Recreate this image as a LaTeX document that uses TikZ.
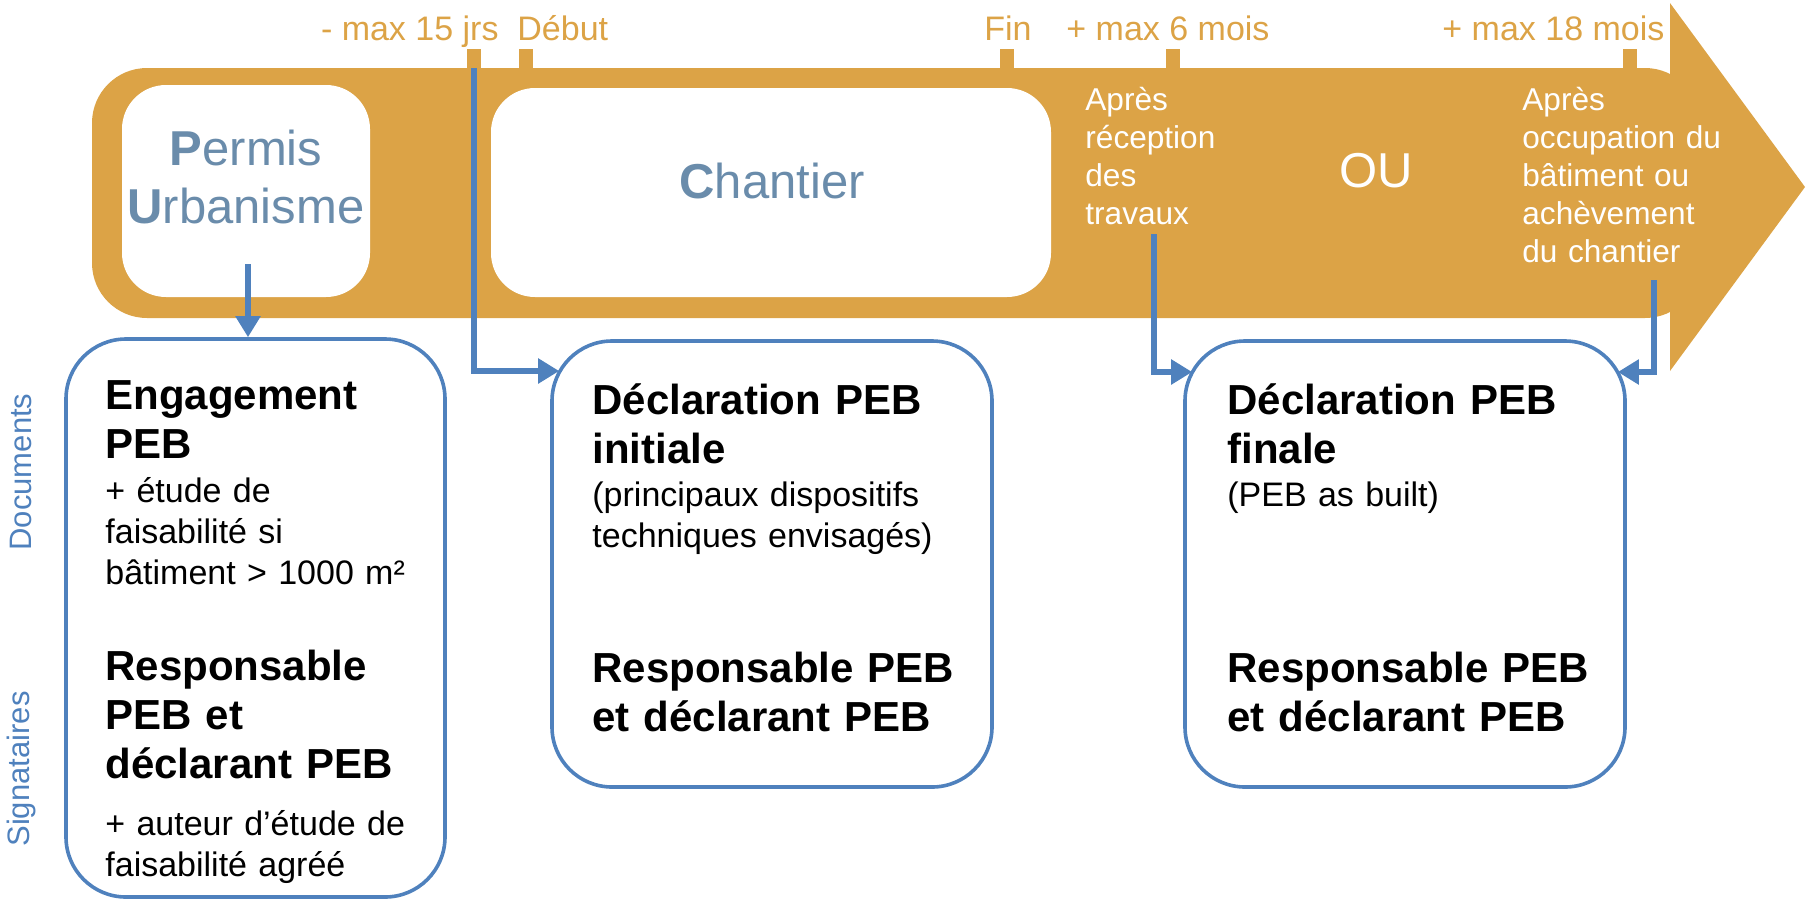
\documentclass[tikz,border=0pt]{standalone}
\usepackage{fontspec}
\setmainfont{Liberation Sans}
\usetikzlibrary{arrows.meta,calc}
\definecolor{pebor}{HTML}{DCA346}
\definecolor{pebbl}{HTML}{4F81BD}
\definecolor{pebgr}{HTML}{6A8CAB}

\begin{document}
\begin{tikzpicture}[x=0.5pt,y=-0.5pt,>={Triangle[length=10.5pt,width=12pt]},
    hole/.style={fill=white,rounded corners=22pt,inner sep=0},
    docbox/.style={draw=pebbl,line width=1.8pt,rounded corners=30pt,inner sep=0,minimum width=220pt,minimum height=223pt},
    link/.style={draw=pebbl,line width=3pt},
    big/.style={text=pebgr,font=\fontsize{24.5pt}{29pt}\selectfont,inner sep=0},
    head/.style={font=\bfseries\fontsize{21pt}{24.5pt}\selectfont,inner sep=0,anchor=base west,text width=195pt,align=left},
    note/.style={font=\fontsize{17pt}{20.5pt}\selectfont,inner sep=0,anchor=base west,text width=195pt,align=left},
    time/.style={text=pebor,font=\fontsize{17pt}{20pt}\selectfont,inner sep=0,anchor=base west},
    onarrow/.style={text=white,font=\fontsize{15.8pt}{19pt}\selectfont,inner sep=0,anchor=base west,text width=125pt,align=left},
    side/.style={text=pebbl,font=\fontsize{15.5pt}{18pt}\selectfont,inner sep=0,rotate=90},
    ]
\useasboundingbox (0,0) rectangle (1806,901);
\fill[pebor,rounded corners=27.5pt] (92,68) rectangle (1700,318);
\fill[pebor] (1670,3) -- (1805,187) -- (1670,371) -- cycle;
\fill[pebor] (467,49) rectangle (481,69);
\fill[pebor] (519,49) rectangle (533,69);
\fill[pebor] (1000,49) rectangle (1014,69);
\fill[pebor] (1166,49) rectangle (1180,69);
\fill[pebor] (1623,49) rectangle (1637,69);

\node[time,anchor=base east] (m15) at (499,40) {- max 15 jrs};
\node[time] (debut) at (517,40) {Début};
\node[time] (fin) at (984,40) {Fin};
\node[time] (m6) at (1066,40) {+ max 6 mois};
\node[time] (m18) at (1442,40) {+ max 18 mois};

\node[hole,minimum width=124pt,minimum height=106pt] (permisbox) at (246,191) {};
\node[hole,minimum width=280pt,minimum height=104.5pt] (chantierbox) at (771,192.5) {};
\node[big,text width=130pt,align=center,anchor=base] (permis) at (246,165) {\textbf{P}ermis\\\textbf{U}rbanisme};
\node[big,anchor=base] (chantier) at (772,198) {\textbf{C}hantier};

\node[onarrow] (recep) at (1085,110) {Après\\réception\\des\\travaux};
\node[big,text=white,anchor=base] (ou) at (1376,187) {OU};
\node[onarrow] (occup) at (1522,110) {Après\\occupation du\\bâtiment ou\\achèvement\\du chantier};

\node[docbox,minimum width=189.5pt,minimum height=279pt] (engag) at (255.5,618) {};
\node[docbox] (declinit) at (772,564) {};
\node[docbox] (declfin) at (1405,564) {};

\node[head,text width=165pt] (engtitle) at (105,409) {Engagement\\PEB};
\node[note,text width=165pt] (engnote) at (105,502) {+ étude de\\faisabilité si\\bâtiment > 1000 m²};
\node[head,text width=165pt] (engsign) at (105,680) {Responsable\\PEB et\\déclarant PEB};
\node[note,text width=165pt] (engauth) at (105,835) {+ auteur d’étude de\\faisabilité agréé};

\node[head] (inititle) at (592,414) {Déclaration PEB\\initiale};
\node[note] (ininote) at (592,506) {(principaux dispositifs\\techniques envisagés)};
\node[head] (inisign) at (592,682) {Responsable PEB\\et déclarant PEB};

\node[head] (fintitle) at (1227,414) {Déclaration PEB\\finale};
\node[note] (finnote) at (1227,506) {(PEB as built)};
\node[head] (finsign) at (1227,682) {Responsable PEB\\et déclarant PEB};

\node[side] (docs) at (21,472) {Documents};
\node[side] (signs) at (21,769) {Signataires};

\coordinate (p1) at (248,264);
\coordinate (t1) at (474,68);
\coordinate (e1) at (474,371);
\coordinate (r1) at (1154,234);
\coordinate (e2) at (1154,372);
\coordinate (r2) at (1654,280);
\coordinate (e3) at (1654,372);
\draw[link,->] (p1) -- (p1 |- engag.north);
\draw[link,->] (t1) -- (e1) -- ($(e1 -| declinit.west)+(9,0)$);
\draw[link,->] (r1) -- (e2) -- ($(e2 -| declfin.west)+(9,0)$);
\draw[link,->] (r2) -- (e3) -- ($(e3 -| declfin.east)+(-9,0)$);
\end{tikzpicture}
\end{document}
